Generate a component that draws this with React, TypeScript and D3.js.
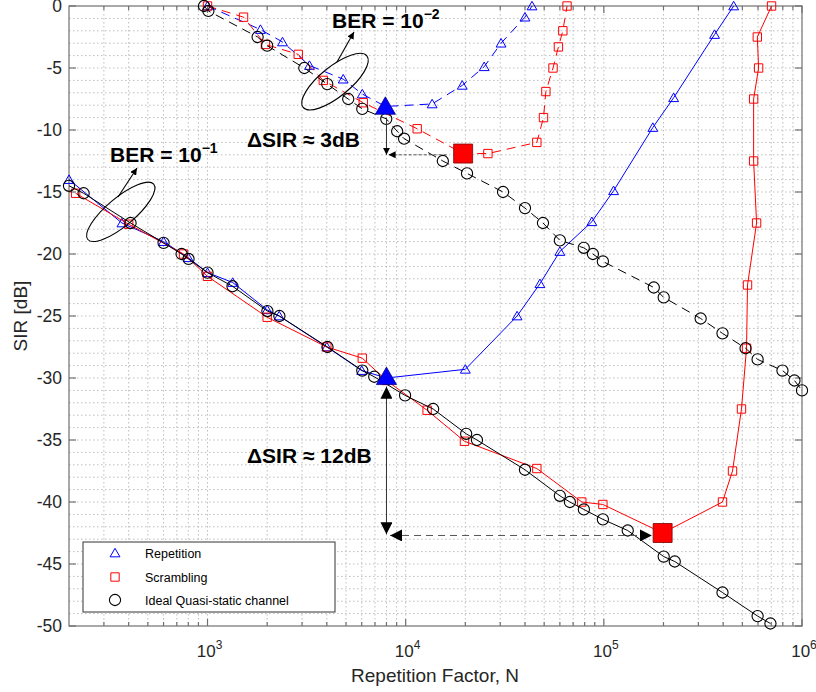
import React from 'react';
import * as d3 from 'd3';

// Repetition, BER = 1e-2 (dashed)
const repHighN = [1000, 1850, 2390, 3270, 4840, 6040, 7900, 13600, 19300, 24900, 30300, 40000, 43400];
const repHighSIR = [0, -1.9, -2.9, -4.8, -5.9, -7.1, -8.1, -7.9, -6.4, -4.9, -3.0, -0.9, 0];
// Repetition, BER = 1e-1 (solid)
const repLowN = [200, 370, 600, 800, 1000, 1340, 2000, 2300, 4000, 6000, 8000, 20000, 36500, 47600, 60000, 87000, 112000, 176700, 225000, 362000, 452000];
const repLowSIR = [-14, -17.5, -19, -20.3, -21.5, -22.3, -24.5, -25, -27.5, -29.4, -30, -29.3, -25, -22.4, -19.8, -17.4, -14.9, -9.8, -7.4, -2.3, 0];
// Scrambling, BER = 1e-2 (dashed)
const scrHighN = [1000, 1520, 1960, 2870, 3840, 6110, 11430, 19500, 26000, 45900, 49600, 51000, 55400, 59000, 62100, 65200];
const scrHighSIR = [0, -0.9, -3.1, -3.9, -6.0, -7.8, -9.9, -11.9, -11.9, -11.0, -9.0, -6.9, -5.0, -3.3, -2.0, 0];
// Scrambling, BER = 1e-1 (solid)
const scrLowN = [216, 400, 757, 1000, 2000, 4000, 6040, 8000, 12830, 19800, 45900, 77400, 98900, 198000, 397000, 446000, 495000, 525000, 531000, 590000, 570000, 570000, 604000, 595000, 702000];
const scrLowSIR = [-15.1, -17.6, -20.0, -21.8, -25.1, -27.5, -28.4, -30.2, -32.6, -35.1, -37.3, -40.0, -40.2, -42.5, -40.0, -37.5, -32.5, -27.6, -22.5, -17.5, -12.5, -7.5, -5.0, -2.5, 0];
// Ideal quasi-static channel
const idealHighN = [960, 1010, 1790, 2000, 3080, 4020, 5130, 6040, 7980, 9060, 9820, 15400, 20400, 31000, 40000, 49300, 60000, 79200, 88100, 98900, 178700, 200500, 308000, 397000, 519000, 597000, 797000, 916000, 1000000];
const idealHighSIR = [0, -0.4, -2.5, -3.2, -5.0, -6.3, -7.5, -8.3, -9.1, -10.1, -10.7, -12.5, -13.5, -15.0, -16.3, -17.5, -18.9, -19.5, -20.0, -20.6, -22.7, -23.5, -25.2, -26.4, -27.6, -28.5, -29.4, -30.2, -31.0];
const idealLowN = [200, 237, 409, 600, 740, 802, 1000, 1337, 2005, 2305, 4030, 6040, 6940, 9930, 13760, 20200, 22900, 40000, 60000, 67400, 79300, 98900, 132000, 200500, 228000, 397000, 597000, 693000];
const idealLowSIR = [-14.5, -15.1, -17.5, -19.1, -20.0, -20.4, -21.5, -22.6, -24.6, -25.0, -27.5, -29.4, -29.9, -31.4, -32.5, -34.5, -35.0, -37.4, -39.5, -40.0, -40.6, -41.4, -42.3, -44.4, -44.8, -47.3, -49.2, -49.8];

// highlighted operating points
const repBigN = [7900, 8000];
const repBigSIR = [-8.1, -29.9];
const scrBigN = [19500, 198000];
const scrBigSIR = [-11.9, -42.5];

const yTickValues = [0, -5, -10, -15, -20, -25, -30, -35, -40, -45, -50];
const xTickExps = [3, 4, 5, 6];
const legendLabels = ['Repetition', 'Scrambling', 'Ideal Quasi-static channel'];

const width = 816, height = 692;
const margin = { l: 69, t: 6, r: 14, b: 66 };
const FONT = 'Liberation Sans, Arial, Helvetica, sans-serif';

const zip = (a: number[], b: number[]) => a.map((v, i) => [v, b[i]] as [number, number]);

export default function App() {
    const x = d3.scaleLog().domain([200, 1e6]).range([margin.l, width - margin.r]);
    const y = d3.scaleLinear().domain([-50, 0]).range([height - margin.b, margin.t]);
    const line = d3.line<[number, number]>().x(d => x(d[0])).y(d => y(d[1]));

    const x0 = margin.l, x1 = width - margin.r, y0 = margin.t, y1 = height - margin.b;

    // grid values
    const xMinor: number[] = [];
    for (let e = 2; e < 6; e++) {
        for (let k = 1; k < 10; k++) {
            const v = k * Math.pow(10, e);
            if (v > 200 && v < 1e6) xMinor.push(v);
        }
    }
    const yGrid = d3.range(-49, 0, 1);

    const tri = (s: number) => d3.symbol(d3.symbolTriangle, s)() as string;
    const sq = (s: number) => d3.symbol(d3.symbolSquare, s)() as string;

    const series = [
        { pts: zip(repLowN, repLowSIR), color: '#0000ff', dash: null, mk: 'tri' },
        { pts: zip(repHighN, repHighSIR), color: '#0000ff', dash: '9,6', mk: 'tri' },
        { pts: zip(scrLowN, scrLowSIR), color: '#ff0000', dash: null, mk: 'sq' },
        { pts: zip(scrHighN, scrHighSIR), color: '#ff0000', dash: '9,6', mk: 'sq' },
        { pts: zip(idealLowN, idealLowSIR), color: '#000000', dash: null, mk: 'circ' },
        { pts: zip(idealHighN, idealHighSIR), color: '#000000', dash: '9,6', mk: 'circ' },
    ];

    const marker = (mk: string, color: string, cx: number, cy: number, key: string) => {
        if (mk === 'tri') return <path key={key} d={tri(42)} transform={`translate(${cx},${cy + 1})`} fill="none" stroke={color} strokeWidth={1} />;
        if (mk === 'sq') return <path key={key} d={sq(70)} transform={`translate(${cx},${cy})`} fill="none" stroke={color} strokeWidth={1} />;
        return <circle key={key} cx={cx} cy={cy} r={5.6} fill="none" stroke={color} strokeWidth={1.1} />;
    };

    // annotation coords
    const arrowX = x(8000);
    const lowTop = y(-30.7), lowBot = y(-42.6);
    const lowH = y(-42.7), lowL = x(8340), lowR = x(174800);
    const upTop = y(-9.0), upBot = y(-12.0);
    const upL = x(8200), upR = x(16100);

    const ell1 = { cx: x(365), cy: y(-16.6) };
    const ell2 = { cx: x(4400), cy: y(-6.1) };

    const legend = { x: 83, y: 542, w: 252, h: 70 };

    return (
        <div style={{ position: 'absolute', left: 0, top: 0 }}>
            <svg width={width} height={height} style={{ display: 'block', background: '#fff' }} fontFamily={FONT}>
                <defs>
                    <marker id="headBig" viewBox="0 0 10 10" refX="10" refY="5" markerWidth="12" markerHeight="12" markerUnits="userSpaceOnUse" orient="auto-start-reverse">
                        <path d="M0,0 L10,5 L0,10 Z" fill="#000" />
                    </marker>
                    <marker id="headSmall" viewBox="0 0 10 10" refX="10" refY="5" markerWidth="7" markerHeight="7" markerUnits="userSpaceOnUse" orient="auto-start-reverse">
                        <path d="M0,0 L10,5 L0,10 Z" fill="#000" />
                    </marker>
                </defs>

                {/* grid */}
                <g stroke="#bdbdbd" strokeWidth={1} strokeDasharray="1.5,2.5">
                    {xMinor.map(v => <line key={'gx' + v} x1={x(v)} x2={x(v)} y1={y0} y2={y1} />)}
                    {yGrid.map(v => <line key={'gy' + v} x1={x0} x2={x1} y1={y(v)} y2={y(v)} />)}
                </g>

                {/* axes box + ticks */}
                <g stroke="#707070" strokeWidth={1.2} fill="none">
                    <rect x={x0} y={y0} width={x1 - x0} height={y1 - y0} />
                    {yTickValues.map(v => (
                        <g key={'yt' + v}>
                            <line x1={x0} x2={x0 + 7} y1={y(v)} y2={y(v)} />
                            <line x1={x1} x2={x1 - 7} y1={y(v)} y2={y(v)} />
                        </g>
                    ))}
                    {xTickExps.map(e => (
                        <g key={'xt' + e}>
                            <line x1={x(Math.pow(10, e))} x2={x(Math.pow(10, e))} y1={y1} y2={y1 - 7} />
                            <line x1={x(Math.pow(10, e))} x2={x(Math.pow(10, e))} y1={y0} y2={y0 + 7} />
                        </g>
                    ))}
                    {xMinor.filter(v => !xTickExps.includes(Math.log10(v))).map(v => (
                        <g key={'xm' + v}>
                            <line x1={x(v)} x2={x(v)} y1={y1} y2={y1 - 4} />
                            <line x1={x(v)} x2={x(v)} y1={y0} y2={y0 + 4} />
                        </g>
                    ))}
                </g>

                {/* tick labels */}
                <g fontSize={17.5} fill="#262626">
                    {yTickValues.map(v => (
                        <text key={'yl' + v} x={x0 - 7} y={y(v) + 6.4} textAnchor="end">{v === 0 ? '0' : '-' + Math.abs(v)}</text>
                    ))}
                    {xTickExps.map(e => (
                        <text key={'xl' + e} x={x(Math.pow(10, e)) + 2} y={657} textAnchor="middle" fontSize={17}>
                            10<tspan dy={-8} fontSize={12}>{e}</tspan>
                        </text>
                    ))}
                </g>
                <text x={435} y={682} fontSize={19} textAnchor="middle" fill="#262626">Repetition Factor, N</text>
                <text transform={`translate(27,316) rotate(-90)`} fontSize={19} textAnchor="middle" fill="#262626">SIR [dB]</text>

                {/* series */}
                {series.map((s, i) => (
                    <g key={'s' + i}>
                        <path d={line(s.pts) as string} fill="none" stroke={s.color} strokeWidth={1} strokeDasharray={s.dash || undefined} />
                        {s.pts.map((p, j) => marker(s.mk, s.color, x(p[0]), y(p[1]), 'm' + i + '_' + j))}
                    </g>
                ))}

                {/* highlighted points */}
                {repBigN.map((n, i) => (
                    <path key={'rb' + i} d={tri(175)} transform={`translate(${x(n)},${y(repBigSIR[i]) + 2})`} fill="#0000ff" stroke="#00008b" strokeWidth={0.8} />
                ))}
                {scrBigN.map((n, i) => (
                    <path key={'sb' + i} d={sq(360)} transform={`translate(${x(n)},${y(scrBigSIR[i])})`} fill="#ff0000" stroke="#7a0000" strokeWidth={0.8} />
                ))}

                {/* arrows: lower */}
                <line x1={arrowX} x2={arrowX} y1={lowTop} y2={lowBot} stroke="#333" strokeWidth={1} markerStart="url(#headBig)" markerEnd="url(#headBig)" />
                <line x1={lowL} x2={lowR} y1={lowH} y2={lowH} stroke="#555" strokeWidth={1} strokeDasharray="7,5" markerStart="url(#headBig)" markerEnd="url(#headBig)" />
                {/* arrows: upper */}
                <line x1={arrowX} x2={arrowX} y1={upTop} y2={upBot} stroke="#333" strokeWidth={1} markerEnd="url(#headSmall)" />
                <line x1={upR} x2={upL} y1={upBot} y2={upBot} stroke="#555" strokeWidth={1} strokeDasharray="3,2" markerEnd="url(#headSmall)" />

                {/* ellipses + arrows */}
                <ellipse cx={ell1.cx} cy={ell1.cy} rx={43} ry={14} transform={`rotate(-40,${ell1.cx},${ell1.cy})`} fill="none" stroke="#000" strokeWidth={1.1} />
                <line x1={118} y1={197} x2={137} y2={168} stroke="#000" strokeWidth={1.1} markerEnd="url(#headSmall)" />
                <ellipse cx={ell2.cx} cy={ell2.cy} rx={41} ry={15} transform={`rotate(-39,${ell2.cx},${ell2.cy})`} fill="none" stroke="#000" strokeWidth={1.1} />
                <line x1={337} y1={62} x2={354} y2={32} stroke="#000" strokeWidth={1.1} markerEnd="url(#headSmall)" />

                {/* texts */}
                <g fontWeight="bold" fontSize={21} fill="#000">
                    <text x={110} y={162}>BER = 10<tspan dy={-9} fontSize={14}>−1</tspan></text>
                    <text x={332} y={28}>BER = 10<tspan dy={-9} fontSize={14}>−2</tspan></text>
                    <text x={247} y={147}>ΔSIR ≈ 3dB</text>
                    <text x={247} y={463}>ΔSIR ≈ 12dB</text>
                </g>

                {/* legend */}
                <g>
                    <rect x={legend.x} y={legend.y} width={legend.w} height={legend.h} fill="#fff" stroke="#333" strokeWidth={1} />
                    {marker('tri', '#0000ff', 115, 553, 'lg0')}
                    {marker('sq', '#ff0000', 115, 577, 'lg1')}
                    {marker('circ', '#000000', 115, 600, 'lg2')}
                    {legendLabels.map((l, i) => (
                        <text key={'ll' + i} x={145} y={[557.5, 581.5, 604.5][i]} fontSize={12.5} fill="#000">{l}</text>
                    ))}
                </g>
            </svg>
        </div>
    );
}
